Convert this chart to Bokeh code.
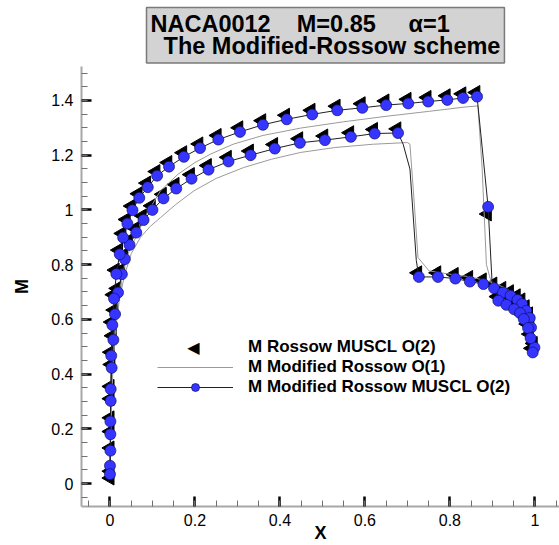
import math
from bokeh.plotting import figure
from bokeh.models import (Range1d, FixedTicker, CustomJSTickFormatter, Legend,
                          LegendItem, Label, Title)
from bokeh.embed import file_html
from bokeh.resources import INLINE

# ---------------- data ----------------
# Modified Rossow MUSCL O(2) (blue circles + black line)
# lower surface, leading edge -> trailing edge ; sym = 1 where a symbol is drawn
mod2_lo_x = [0.0, 0.001, 0.0017, 0.004, 0.008, 0.012, 0.019, 0.028, 0.035, 0.046,
             0.062, 0.079, 0.100, 0.126, 0.156, 0.192, 0.232, 0.279, 0.331, 0.388,
             0.447, 0.506, 0.567, 0.623, 0.678, 0.690, 0.706, 0.721, 0.727, 0.772,
             0.813, 0.847, 0.879, 0.904, 0.925, 0.943, 0.959, 0.970, 0.980, 0.988,
             0.991, 0.999]
mod2_lo_m = [0.065, 0.180, 0.302, 0.423, 0.525, 0.619, 0.698, 0.765, 0.820, 0.872,
             0.917, 0.963, 1.000, 1.042, 1.078, 1.114, 1.147, 1.177, 1.200, 1.224,
             1.245, 1.255, 1.267, 1.279, 1.281, 1.240, 1.149, 0.815, 0.755, 0.755,
             0.749, 0.738, 0.729, 0.714, 0.698, 0.686, 0.671, 0.656, 0.631, 0.605,
             0.570, 0.497]
mod2_lo_sym = [1] * 25 + [0, 0, 0] + [1] * 14
# upper surface, leading edge -> trailing edge
mod2_up_x = [0.0, 0.001, 0.001, 0.0017, 0.003, 0.0056, 0.0095, 0.015, 0.023, 0.031,
             0.041, 0.053, 0.069, 0.089, 0.111, 0.139, 0.174, 0.212, 0.255, 0.306,
             0.360, 0.416, 0.476, 0.535, 0.594, 0.650, 0.702, 0.749, 0.794, 0.831,
             0.864, 0.890, 0.899, 0.914, 0.933, 0.951, 0.965, 0.974, 0.984, 0.990,
             0.995]
mod2_up_m = [0.034, 0.120, 0.227, 0.345, 0.467, 0.579, 0.676, 0.766, 0.838, 0.899,
             0.950, 0.999, 1.044, 1.083, 1.125, 1.158, 1.194, 1.226, 1.257, 1.285,
             1.311, 1.331, 1.349, 1.364, 1.373, 1.383, 1.389, 1.396, 1.402, 1.409,
             1.414, 1.011, 0.745, 0.668, 0.653, 0.637, 0.623, 0.601, 0.568, 0.531,
             0.479]
mod2_up_sym = [1] * 32 + [0] + [1] * 8

# Rossow MUSCL O(2) (black left-pointing triangles)
ros_up_x = [0.0, 0.0, 0.0, 0.0, 0.001, 0.003, 0.007, 0.012, 0.020, 0.028,
            0.038, 0.050, 0.066, 0.086, 0.108, 0.136, 0.171, 0.209, 0.252, 0.303,
            0.357, 0.413, 0.473, 0.532, 0.591, 0.647, 0.699, 0.746, 0.791, 0.828,
            0.861, 0.888, 0.911, 0.930, 0.948, 0.962, 0.971, 0.981, 0.987, 0.992]
ros_up_m = [0.045, 0.13, 0.24, 0.355, 0.48, 0.59, 0.69, 0.78, 0.853, 0.914,
            0.965, 1.014, 1.059, 1.098, 1.140, 1.173, 1.209, 1.241, 1.272, 1.300,
            1.326, 1.346, 1.364, 1.379, 1.388, 1.398, 1.404, 1.411, 1.417, 1.424,
            1.429, 0.985, 0.683, 0.668, 0.652, 0.638, 0.616, 0.583, 0.546, 0.494]
ros_lo_x = [0.0, 0.0, 0.0, 0.002, 0.005, 0.009, 0.016, 0.025, 0.032, 0.043,
            0.059, 0.076, 0.097, 0.123, 0.153, 0.189, 0.229, 0.276, 0.328, 0.385,
            0.444, 0.503, 0.564, 0.620, 0.675, 0.724, 0.769, 0.810, 0.844, 0.876,
            0.901, 0.922, 0.940, 0.956, 0.967, 0.977, 0.985, 0.988, 0.996]
ros_lo_m = [0.02, 0.19, 0.31, 0.435, 0.54, 0.634, 0.713, 0.78, 0.835, 0.887,
            0.932, 0.978, 1.015, 1.057, 1.093, 1.129, 1.162, 1.192, 1.215, 1.239,
            1.260, 1.270, 1.282, 1.294, 1.296, 0.770, 0.770, 0.764, 0.753, 0.744,
            0.729, 0.713, 0.701, 0.686, 0.671, 0.646, 0.620, 0.585, 0.512]

# Modified Rossow O(1) (thin grey line)
mod1_up_x = [0.0, 0.002, 0.005, 0.01, 0.018, 0.03, 0.045, 0.064, 0.09, 0.119,
             0.16, 0.20, 0.237, 0.29, 0.36, 0.449, 0.55, 0.65, 0.75, 0.836,
             0.866, 0.876, 0.886, 0.90, 0.915, 0.935, 0.955, 0.97, 0.982, 0.992, 1.0]
mod1_up_m = [0.03, 0.22, 0.40, 0.55, 0.67, 0.77, 0.85, 0.91, 0.995, 1.07,
             1.13, 1.173, 1.204, 1.24, 1.272, 1.299, 1.322, 1.342, 1.36, 1.376,
             1.38, 1.15, 0.80, 0.72, 0.69, 0.665, 0.645, 0.625, 0.60, 0.56, 0.49]
mod1_lo_x = [0.0, 0.003, 0.007, 0.013, 0.022, 0.034, 0.05, 0.072, 0.095, 0.119,
             0.155, 0.198, 0.25, 0.315, 0.38, 0.449, 0.53, 0.62, 0.70, 0.706,
             0.715, 0.725, 0.751, 0.80, 0.85, 0.90, 0.93, 0.955, 0.975, 0.99, 1.0]
mod1_lo_m = [0.03, 0.25, 0.42, 0.56, 0.67, 0.76, 0.84, 0.90, 0.94, 0.972,
             1.02, 1.07, 1.115, 1.155, 1.185, 1.21, 1.228, 1.24, 1.246, 1.24,
             1.05, 0.826, 0.777, 0.765, 0.755, 0.735, 0.715, 0.69, 0.66, 0.60, 0.49]

x_ticks = [0.0, 0.2, 0.4, 0.6, 0.8, 1.0]
y_ticks = [0.0, 0.2, 0.4, 0.6, 0.8, 1.0, 1.2, 1.4]
labels = ["M Rossow MUSCL O(2)", "M Modified Rossow O(1)", "M Modified Rossow MUSCL O(2)"]
NB = "\u00a0"
title_lines = ["NACA0012" + NB * 4 + "M=0.85" + NB * 5 + "\u03b1=1",
               NB * 2 + "The Modified-Rossow scheme"]

# ---------------- figure ----------------
FL, FT, FB = 81, 66, 39
W, H = 559, 545
p = figure(width=W, height=H, output_backend="svg", toolbar_location=None,
           x_range=Range1d(-0.067, 1.058), y_range=Range1d(-0.084, 1.524),
           min_border_left=FL, min_border_right=0, min_border_top=FT,
           min_border_bottom=FB)
p.outline_line_color = None
p.grid.visible = False
p.background_fill_color = "white"
p.border_fill_color = "white"

x_minor = [round(-0.05 + 0.05 * i, 3) for i in range(23)]
y_minor = [round(-0.05 + 0.05 * i, 3) for i in range(32)]
p.xaxis.ticker = FixedTicker(ticks=x_ticks, minor_ticks=x_minor)
p.yaxis.ticker = FixedTicker(ticks=y_ticks, minor_ticks=y_minor)
fmt = CustomJSTickFormatter(code="return tick.toFixed(1).replace(/\\.0$/, '');")
for ax in (p.xaxis[0], p.yaxis[0]):
    ax.formatter = fmt
    ax.axis_line_color = "#a8a8a8"
    ax.axis_line_width = 2
    ax.major_tick_in = 10
    ax.major_tick_out = 0
    ax.major_tick_line_color = "black"
    ax.major_tick_line_width = 2.5
    ax.minor_tick_in = 6
    ax.minor_tick_out = 0
    ax.minor_tick_line_color = "#707070"
    ax.minor_tick_line_width = 1
    ax.major_label_text_font = "Liberation Sans"
    ax.major_label_text_font_size = "16px"
    ax.major_label_text_color = "black"
    ax.axis_label_text_font = "Liberation Sans"
    ax.axis_label_text_font_style = "bold"
    ax.axis_label_text_font_size = "18px"
    ax.axis_label_text_color = "black"
p.xaxis.axis_label = "X"
p.yaxis.axis_label = "M"
p.xaxis.major_label_standoff = 7
p.yaxis.major_label_standoff = 8
p.xaxis.axis_label_standoff = -6
p.yaxis.axis_label_standoff = 16

# ---------------- series ----------------
r_tri = p.scatter(ros_lo_x + ros_up_x, ros_lo_m + ros_up_m, marker="triangle",
                  angle=math.pi / 2, size=14, fill_color="black", line_color="black")

g_x = mod1_lo_x[::-1] + mod1_up_x
g_m = mod1_lo_m[::-1] + mod1_up_m
r_gray = p.line(g_x, g_m, line_color="#9a9a9a", line_width=1)

l_x = mod2_lo_x[::-1] + mod2_up_x
l_m = mod2_lo_m[::-1] + mod2_up_m
r_line = p.line(l_x, l_m, line_color="#202020", line_width=1)

c_x = [x for x, s in zip(mod2_lo_x, mod2_lo_sym) if s] + \
      [x for x, s in zip(mod2_up_x, mod2_up_sym) if s]
c_m = [m for m, s in zip(mod2_lo_m, mod2_lo_sym) if s] + \
      [m for m, s in zip(mod2_up_m, mod2_up_sym) if s]
r_circ = p.scatter(c_x, c_m, marker="circle", size=11, fill_color="#3535ff",
                   line_color="#10106a", line_width=0.7)

# legend: the legend cannot rotate a marker, so the sample for the triangle
# series is an invisible glyph with a left-pointing triangle character on top
r_key = p.scatter([], [], marker="triangle", fill_alpha=0, line_alpha=0)
legend = Legend(items=[LegendItem(label=labels[0], renderers=[r_key]),
                       LegendItem(label=labels[1], renderers=[r_gray]),
                       LegendItem(label=labels[2], renderers=[r_line, r_circ])],
                location=(76, 109), glyph_width=76, glyph_height=20, label_height=20,
                spacing=0, padding=0, margin=0, label_standoff=15,
                border_line_color=None, background_fill_alpha=0,
                label_text_font="Liberation Sans", label_text_font_style="bold",
                label_text_font_size="17px", label_text_color="black")
p.add_layout(legend)
frame_bottom = H - FB
p.add_layout(Label(x=193 - FL, y=frame_bottom - 347, x_units="screen", y_units="screen",
                   text="\u25c0", text_font="DejaVu Sans", text_font_size="16px",
                   text_align="center", text_baseline="middle", text_color="black"))

# ---------------- title box ----------------
title = Title(text="\n".join(title_lines), align="left", offset=65, standoff=7,
              text_font="Liberation Sans", text_font_size="23.5px",
              text_font_style="bold", text_color="black", text_line_height=0.83,
              background_fill_color="#d3d3d3", border_line_color="#7a7a7a",
              border_line_width=1.5, padding=4)
p.add_layout(title, "above")

open("out.html", "w").write(file_html(p, INLINE))
